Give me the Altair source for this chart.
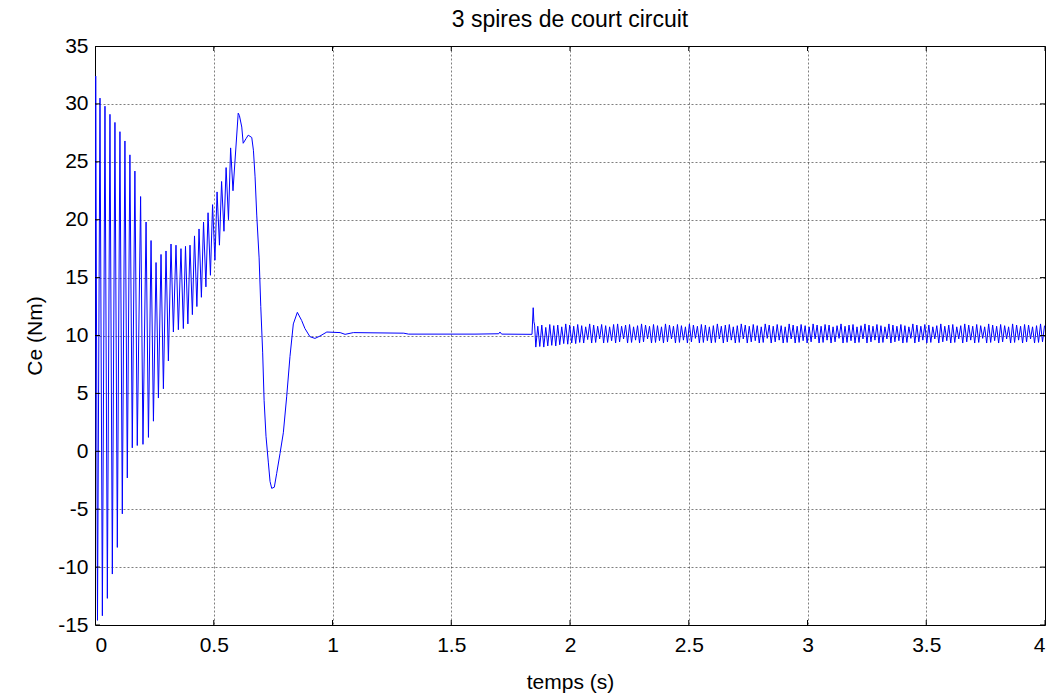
import altair as alt
import pandas as pd

# Electromagnetic torque Ce (Nm) of the machine with 3 short-circuited turns

# start-up oscillation: crest instants (s) and values (Nm)
crest_t = [0.003, 0.021, 0.042, 0.063, 0.084, 0.105, 0.126, 0.147, 0.168, 0.192,
           0.215, 0.236, 0.257, 0.278, 0.299, 0.320, 0.341, 0.362, 0.381, 0.400,
           0.419, 0.438, 0.457, 0.476, 0.495, 0.514, 0.533, 0.552, 0.571]
crest_v = [32.4, 30.5, 29.8, 29.1, 28.4, 27.6, 26.8, 25.6, 24.2, 22.0,
           19.8, 18.2, 16.3, 17.0, 17.3, 17.9, 17.8, 17.5, 17.7, 17.8,
           18.6, 19.2, 19.8, 20.6, 21.3, 22.4, 23.3, 24.5, 26.2]

# start-up oscillation: trough instants (s) and values (Nm)
trough_t = [0.0105, 0.031, 0.052, 0.073, 0.094, 0.115, 0.136, 0.157, 0.178, 0.202,
            0.225, 0.246, 0.267, 0.288, 0.309, 0.330, 0.351, 0.372, 0.391, 0.410,
            0.429, 0.448, 0.467, 0.486, 0.505, 0.524, 0.543, 0.562, 0.581]
trough_v = [-14.6, -14.2, -12.7, -10.6, -8.3, -5.4, -2.3, 0.3, 0.5, 0.6,
            1.2, 2.6, 4.6, 5.4, 7.8, 10.3, 10.5, 10.6, 11.0, 11.8,
            12.5, 13.3, 14.2, 15.2, 16.5, 17.8, 19.0, 20.0, 22.5]

# pull-out swing, settling and healthy steady state
swing_t = [0.603, 0.608, 0.618, 0.624, 0.636, 0.645, 0.660, 0.667, 0.674, 0.681,
           0.691, 0.698, 0.706, 0.712, 0.720, 0.730, 0.737, 0.744, 0.755, 0.765,
           0.779, 0.793, 0.807, 0.821, 0.835, 0.852, 0.870, 0.884, 0.905, 0.926,
           0.947, 0.976, 1.032, 1.053, 1.088, 1.300, 1.320, 1.600, 1.700, 1.705,
           1.712, 1.840]
swing_v = [29.2, 29.0, 28.0, 26.6, 27.0, 27.3, 27.1, 26.0, 23.7, 20.4,
           16.7, 12.5, 8.5, 4.4, 1.3, -1.0, -2.6, -3.2, -3.1, -1.9,
           -0.2, 1.6, 4.7, 8.2, 11.0, 12.0, 11.3, 10.6, 9.9, 9.75,
           9.95, 10.3, 10.25, 10.1, 10.25, 10.2, 10.12, 10.12, 10.15, 10.3,
           10.12, 10.1]

# appearance of the inter-turn short circuit
fault_t = [1.845, 1.848, 1.851]
fault_v = [12.4, 11.2, 10.9]

# torque ripple after the fault: one trough and one crest per cycle
ripple_t0 = 1.856
ripple_half = 0.0084
ripple_lo = [9.0, 9.05, 9.0, 9.1, 9.15, 9.1, 9.2, 9.3, 9.25, 9.35, 9.3, 9.4, 9.35, 9.65, 9.35, 9.4,
             9.7, 9.35, 9.4, 9.55, 9.35, 9.45, 9.7, 9.35, 9.4, 9.6, 9.35, 9.45, 9.7, 9.35, 9.4, 9.55,
             9.35, 9.45, 9.7, 9.35, 9.4, 9.6, 9.35, 9.45, 9.75, 9.35, 9.4, 9.55, 9.35, 9.4, 9.7, 9.35,
             9.45, 9.6, 9.35, 9.4, 9.7, 9.35, 9.45, 9.55, 9.35, 9.4, 9.75, 9.35, 9.45, 9.6, 9.35, 9.4,
             9.7, 9.35, 9.4, 9.55, 9.35, 9.45, 9.7, 9.35, 9.4, 9.6, 9.35, 9.45, 9.75, 9.35, 9.4, 9.55,
             9.35, 9.4, 9.7, 9.35, 9.45, 9.6, 9.35, 9.4, 9.7, 9.35, 9.45, 9.55, 9.35, 9.4, 9.75, 9.35,
             9.45, 9.6, 9.35, 9.4, 9.7, 9.35, 9.45, 9.55, 9.35, 9.4, 9.7, 9.35, 9.45, 9.6, 9.35, 9.4,
             9.75, 9.35, 9.4, 9.55, 9.35, 9.45, 9.7, 9.35, 9.4, 9.6, 9.35, 9.45, 9.7, 9.35, 9.4, 9.45]
ripple_hi = [10.8, 10.9, 10.7, 10.95, 10.85, 10.9, 10.75, 11.0, 10.9, 10.8, 10.95, 10.85, 10.75, 11.0, 10.9, 10.8,
             10.95, 10.85, 10.75, 10.95, 11.0, 10.8, 10.9, 10.95, 10.75, 10.85, 11.0, 10.9, 10.8, 10.95, 10.85, 10.75,
             11.0, 10.9, 10.8, 10.95, 10.85, 10.75, 11.0, 10.9, 10.8, 10.95, 10.9, 10.75, 10.85, 11.0, 10.8, 10.9,
             10.95, 10.75, 10.85, 11.0, 10.9, 10.8, 10.95, 10.85, 10.75, 11.0, 10.9, 10.8, 10.95, 10.85, 10.75, 11.0,
             10.9, 10.8, 10.95, 10.85, 10.75, 11.0, 10.9, 10.8, 10.95, 10.9, 10.75, 10.85, 11.0, 10.8, 10.9, 10.95,
             10.75, 10.85, 11.0, 10.9, 10.8, 10.95, 10.85, 10.75, 11.0, 10.9, 10.8, 10.95, 10.85, 10.75, 11.0, 10.9,
             10.8, 10.95, 10.9, 10.75, 10.85, 11.0, 10.8, 10.9, 10.95, 10.75, 10.85, 11.0, 10.9, 10.8, 10.95, 10.85,
             10.75, 11.0, 10.9, 10.8, 10.95, 10.85, 10.75, 11.0, 10.9, 10.8, 10.95, 10.9, 10.75, 10.85, 11.0, 10.85]

x_ticks = [0, 0.5, 1, 1.5, 2, 2.5, 3, 3.5, 4]
y_ticks = [-15, -10, -5, 0, 5, 10, 15, 20, 25, 30, 35]

# assemble the time series
t_all, v_all = [0.0], [0.0]
for tc, vc, tt, vt in zip(crest_t, crest_v, trough_t, trough_v):
    t_all += [tc, tt]
    v_all += [vc, vt]
t_all += swing_t + fault_t
v_all += swing_v + fault_v
for i, (lo, hi) in enumerate(zip(ripple_lo, ripple_hi)):
    t_all += [ripple_t0 + 2 * i * ripple_half, ripple_t0 + (2 * i + 1) * ripple_half]
    v_all += [lo, hi]

signal = pd.DataFrame({"t": t_all, "ce": v_all, "i": range(len(t_all))})

FONT = "Liberation Sans"
xs = alt.Scale(domain=[0, 4], nice=False, zero=False)
ys = alt.Scale(domain=[-15, 35], nice=False, zero=False)

x_axis = alt.Axis(values=x_ticks, format="~g", title="temps (s)", grid=True,
                  ticks=False, domain=False, labelPadding=9, titlePadding=16,
                  labelFont=FONT, titleFont=FONT, labelFontSize=21, titleFontSize=21,
                  labelColor="black", titleColor="black", titleFontWeight="normal",
                  gridColor="#000000", gridOpacity=0.5, gridDash=[2, 2], gridWidth=1)
y_axis = alt.Axis(values=y_ticks, labelExpr="'' + datum.value", title="Ce (Nm)", grid=True,
                  ticks=False, domain=False, labelPadding=7, titlePadding=12,
                  labelFont=FONT, titleFont=FONT, labelFontSize=21, titleFontSize=21,
                  labelColor="black", titleColor="black", titleFontWeight="normal",
                  gridColor="#000000", gridOpacity=0.5, gridDash=[2, 2], gridWidth=1)

line = alt.Chart(signal).mark_line(color="#0000FF", strokeWidth=1, clip=True).encode(
    x=alt.X("t:Q", scale=xs, axis=x_axis),
    y=alt.Y("ce:Q", scale=ys, axis=y_axis),
    order=alt.Order("i:Q"),
)

# inward tick marks on the four sides of the box
xt = pd.DataFrame({"x": x_ticks * 2, "edge": [-15] * 9 + [35] * 9})
yt = pd.DataFrame({"y": y_ticks * 2, "edge": [0] * 11 + [4] * 11})

xticks = alt.Chart(xt).mark_tick(color="black", size=10, thickness=1, clip=True,
                                 orient="vertical", opacity=1).encode(
    x=alt.X("x:Q", scale=xs, axis=x_axis), y=alt.Y("edge:Q", scale=ys, axis=y_axis))
yticks = alt.Chart(yt).mark_tick(color="black", size=10, thickness=1, clip=True,
                                 orient="horizontal", opacity=1).encode(
    x=alt.X("edge:Q", scale=xs, axis=x_axis), y=alt.Y("y:Q", scale=ys, axis=y_axis))

chart = alt.layer(line, xticks, yticks).properties(
    width=950,
    height=579,
    background="white",
    title=alt.TitleParams("3 spires de court circuit", font=FONT, fontSize=23,
                          fontWeight="normal", color="black", offset=3),
    autosize=alt.AutoSizeParams(type="none"),
    padding={"left": 95, "top": 46, "right": 14, "bottom": 72},
).configure_view(
    stroke="black", strokeWidth=1,
)

chart.save("out.html", embed_options={"renderer": "svg", "actions": False})
